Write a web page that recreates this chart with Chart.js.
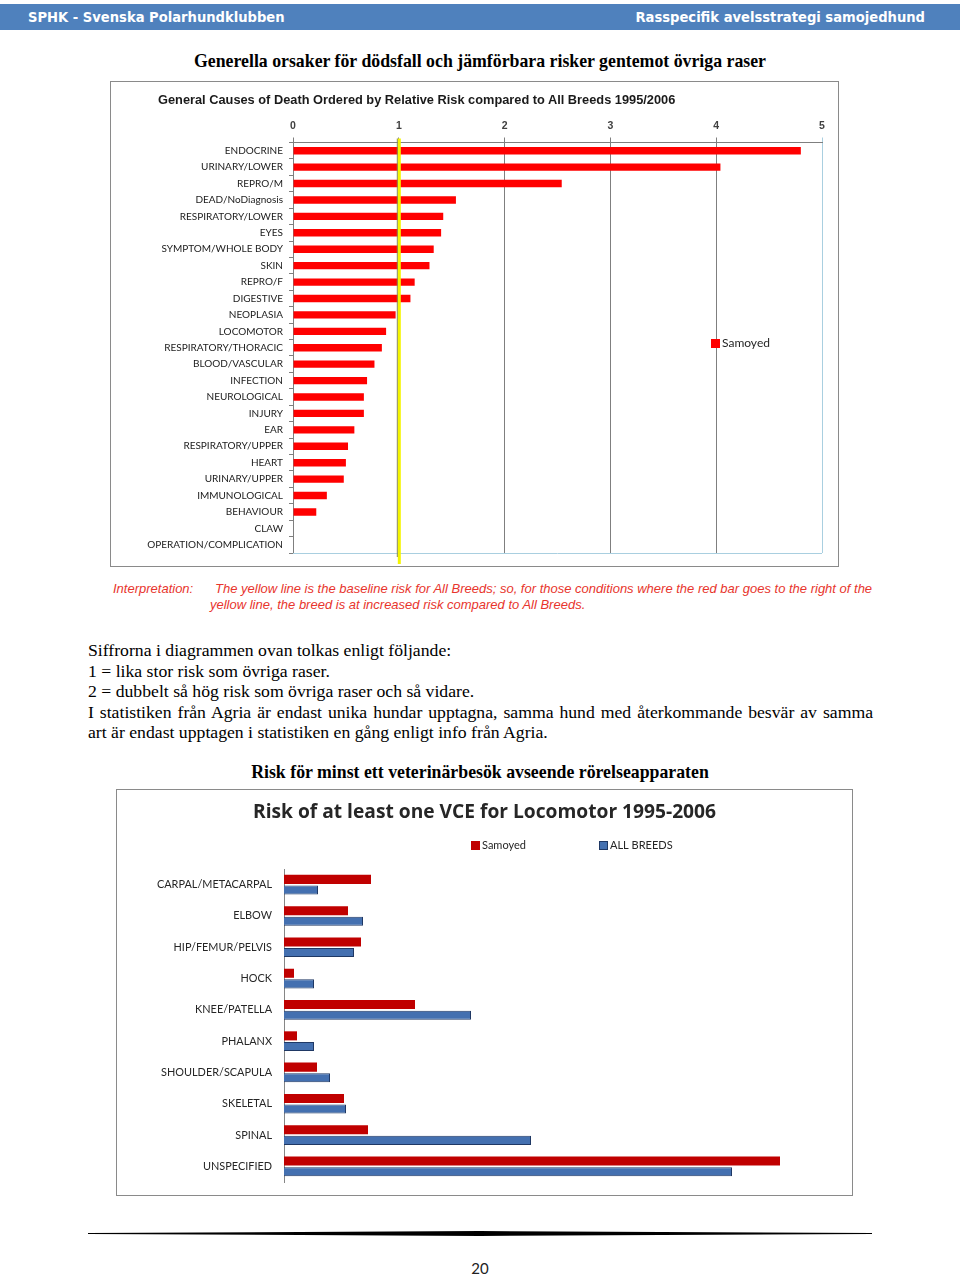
<!DOCTYPE html>
<html>
<head>
<meta charset="utf-8">
<script src="https://cdn.jsdelivr.net/npm/chart.js@4.4.1/dist/chart.umd.min.js"></script>
<style>
body{margin:0;width:960px;height:1276px;position:relative;background:#fff;overflow:hidden;font-family:"Liberation Serif",serif;color:#000}
.hdr{position:absolute;left:0;top:4px;width:960px;height:26px;background:#4f81bd;color:#fff;font:bold 14.6px "DejaVu Sans Condensed","DejaVu Sans",sans-serif}
.hdr span{position:absolute;top:4px}
.head{position:absolute;left:0;width:960px;text-align:center;font:bold 17.8px "Liberation Serif",serif;line-height:20px}
.box{position:absolute;border:1px solid #8a8a8a;box-sizing:border-box}
.ctitle{position:absolute;z-index:2;font:bold 12.8px "Liberation Sans",sans-serif;color:#1a1a1a;line-height:15px}
.interp{position:absolute;color:#e8352d;font:italic 13px "Liberation Sans Narrow","Arial Narrow","Liberation Sans",sans-serif;line-height:16px}
.body{position:absolute;left:88px;top:640px;width:785px;font-size:17.7px;line-height:20.5px;text-align:justify}
.rule{position:absolute;left:88px;top:1231px;width:784px;height:5px;background:#000;clip-path:polygon(0 40%,50% 0,100% 40%,100% 60%,50% 100%,0 60%)}
.pg{position:absolute;left:0;top:1259px;width:960px;text-align:center;font:15px Lato,sans-serif;color:#222}
</style>
</head>
<body>
<div class="hdr"><span style="left:28px">SPHK - Svenska Polarhundklubben</span><span style="right:35px">Rasspecifik avelsstrategi samojedhund</span></div>

<div class="head" style="top:51px">Generella orsaker för dödsfall och jämförbara risker gentemot övriga raser</div>

<div class="box" style="left:110px;top:81px;width:729px;height:486px"><canvas id="deaths"></canvas></div>
<div class="ctitle" style="left:158px;top:92px">General Causes of Death Ordered by Relative Risk compared to All Breeds 1995/2006</div>

<div class="interp" style="left:113px;top:581px">Interpretation:</div>
<div class="interp" style="left:210px;top:581px;width:665px;text-indent:5px">The yellow line is the baseline risk for All Breeds; so, for those conditions where the red bar goes to the right of the yellow line, the breed is at increased risk compared to All Breeds.</div>

<div class="body">Siffrorna i diagrammen ovan tolkas enligt följande:<br>1 = lika stor risk som övriga raser.<br>2 = dubbelt så hög risk som övriga raser och så vidare.<br>I statistiken från Agria är endast unika hundar upptagna, samma hund med återkommande besvär av samma art är endast upptagen i statistiken en gång enligt info från Agria.</div>

<div class="head" style="top:762px">Risk för minst ett veterinärbesök avseende rörelseapparaten</div>

<div class="box" style="left:116px;top:789px;width:737px;height:407px"><canvas id="vce"></canvas></div>

<div class="rule"></div>
<div class="pg">20</div>

<script>
// chart 1 - relative risk per cause of death
const causes = ['ENDOCRINE','URINARY/LOWER','REPRO/M','DEAD/NoDiagnosis','RESPIRATORY/LOWER','EYES',
  'SYMPTOM/WHOLE BODY','SKIN','REPRO/F','DIGESTIVE','NEOPLASIA','LOCOMOTOR','RESPIRATORY/THORACIC',
  'BLOOD/VASCULAR','INFECTION','NEUROLOGICAL','INJURY','EAR','RESPIRATORY/UPPER','HEART',
  'URINARY/UPPER','IMMUNOLOGICAL','BEHAVIOUR','CLAW','OPERATION/COMPLICATION'];
const causeRisk = [4.80,4.04,2.54,1.54,1.42,1.40,1.33,1.29,1.15,1.11,0.97,0.88,0.84,
  0.77,0.70,0.67,0.67,0.58,0.52,0.50,0.48,0.32,0.22,0,0];
const allBreedsBaseline = 1;

// chart 2 - locomotor VCE
const sites = ['CARPAL/METACARPAL','ELBOW','HIP/FEMUR/PELVIS','HOCK','KNEE/PATELLA','PHALANX',
  'SHOULDER/SCAPULA','SKELETAL','SPINAL','UNSPECIFIED'];
const samoyedVce = [0.87,0.64,0.77,0.10,1.31,0.13,0.33,0.60,0.84,4.96];
const allBreedsVce = [0.34,0.79,0.70,0.30,1.87,0.30,0.46,0.62,2.47,4.48];

const baselinePlugin = {
  id: 'baseline',
  beforeDatasetsDraw(chart) {
    const {ctx, chartArea} = chart;
    ctx.save();
    ctx.strokeStyle = '#a9cfe0';
    ctx.lineWidth = 1;
    ctx.beginPath();
    ctx.moveTo(chartArea.left, chartArea.bottom + 0.5);
    ctx.lineTo(chartArea.right, chartArea.bottom + 0.5);
    ctx.stroke();
    ctx.restore();
  },
  afterDatasetsDraw(chart) {
    const {ctx, chartArea, scales} = chart;
    const px = scales.x.getPixelForValue(allBreedsBaseline);
    ctx.save();
    ctx.fillStyle = '#f5f500';
    ctx.fillRect(px - 1, chartArea.top - 4, 3, chartArea.bottom - chartArea.top + 15);
    ctx.fillStyle = '#8a8a50';
    ctx.fillRect(px - 2, chartArea.top - 4, 1, chartArea.bottom - chartArea.top + 8);
    ctx.restore();
  }
};

const legendPlugin = {
  id: 'boxLegend',
  afterDraw(chart, args, opts) {
    const ctx = chart.ctx;
    ctx.save();
    ctx.font = opts.font;
    ctx.textBaseline = 'middle';
    opts.items.forEach(function (it) {
      ctx.fillStyle = it.color;
      ctx.fillRect(it.x, it.y, 9, 9);
      if (it.border) {
        ctx.strokeStyle = it.border;
        ctx.strokeRect(it.x + 0.5, it.y + 0.5, 8, 8);
      }
      ctx.fillStyle = '#262626';
      ctx.fillText(it.text, it.x + 11, it.y + 4.5);
    });
    ctx.restore();
  }
};

new Chart(document.getElementById('deaths'), {
  type: 'bar',
  data: {
    labels: causes,
    datasets: [{label: 'Samoyed', data: causeRisk, backgroundColor: '#ff0000', barPercentage: 0.45, categoryPercentage: 1}]
  },
  plugins: [baselinePlugin, legendPlugin],
  options: {
    indexAxis: 'y',
    responsive: true,
    maintainAspectRatio: false,
    animation: false,
    layout: {padding: {left: 25, right: 16, top: 26.5, bottom: 13}},
    plugins: {
      legend: {display: false},
      tooltip: {enabled: false},
      boxLegend: {
        font: '12px Lato',
        items: [{text: 'Samoyed', color: '#ff0000', x: 600, y: 257}]
      }
    },
    scales: {
      x: {
        position: 'top', min: 0, max: 5,
        ticks: {stepSize: 1, color: '#404040', font: {family: 'Liberation Sans', size: 10.5, weight: 'bold'}, padding: 5},
        grid: {color: c => (c.tick && c.tick.value === 5) ? '#a9cfe0' : '#7f7f7f', tickLength: 5},
        border: {color: '#7f7f7f'},
        afterFit: s => { s.height = 34; }
      },
      y: {
        ticks: {color: '#1a1a1a', font: {family: 'Lato', size: 10}, padding: 6, autoSkip: false},
        grid: {drawOnChartArea: false, tickLength: 4, color: '#7f7f7f'},
        border: {color: '#7f7f7f'},
        afterFit: s => { s.width = 157; }
      }
    }
  }
});

new Chart(document.getElementById('vce'), {
  type: 'bar',
  data: {
    labels: sites,
    datasets: [
      {label: 'Samoyed', data: samoyedVce, backgroundColor: '#c00000', barPercentage: 0.85, categoryPercentage: 0.68},
      {label: 'ALL BREEDS', data: allBreedsVce, backgroundColor: '#4470b0', borderColor: '#1f3864', borderWidth: 1, barPercentage: 0.85, categoryPercentage: 0.68}
    ]
  },
  plugins: [legendPlugin],
  options: {
    indexAxis: 'y',
    responsive: true,
    maintainAspectRatio: false,
    animation: false,
    layout: {padding: {left: 18, right: 18, top: 0, bottom: 13}},
    plugins: {
      legend: {display: false},
      tooltip: {enabled: false},
      title: {
        display: true,
        text: 'Risk of at least one VCE for Locomotor 1995-2006',
        color: '#262626',
        font: {family: 'Open Sans', size: 19.2, weight: 'bold'},
        padding: {top: 11, bottom: 45}
      },
      boxLegend: {
        font: '11px Lato',
        items: [
          {text: 'Samoyed', color: '#c00000', x: 354, y: 51},
          {text: 'ALL BREEDS', color: '#4470b0', border: '#1f3864', x: 482, y: 51}
        ]
      }
    },
    scales: {
      x: {display: false, min: 0, max: 5.5},
      y: {
        ticks: {color: '#262626', font: {family: 'Lato', size: 10.9}, padding: 0, autoSkip: false},
        grid: {drawOnChartArea: false, drawTicks: true, tickLength: 12, color: 'rgba(0,0,0,0)'},
        border: {color: '#868686'},
        afterFit: s => { s.width = 149; }
      }
    }
  }
});
</script>
</body>
</html>
